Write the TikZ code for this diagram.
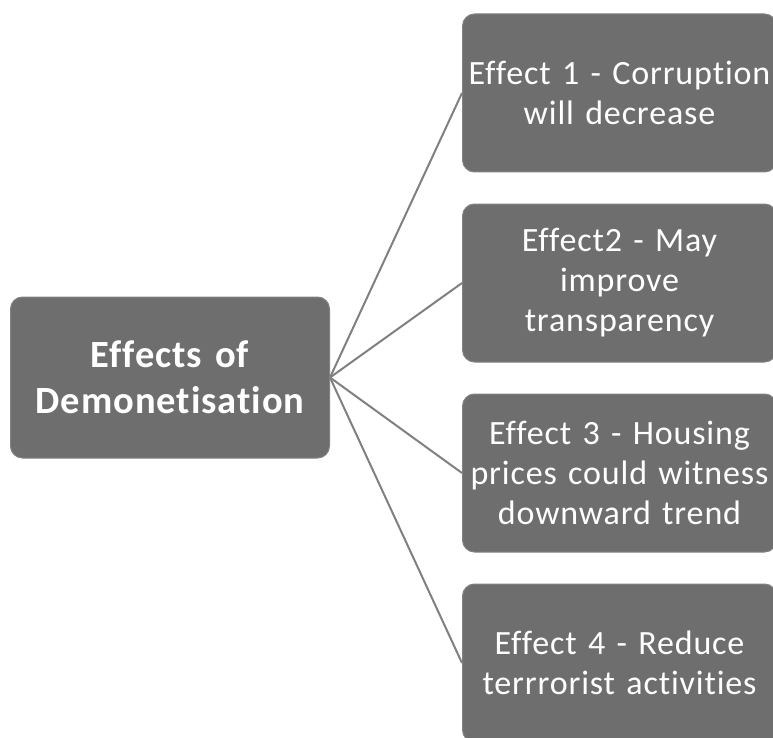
\documentclass[tikz,border=0pt]{standalone}
\usepackage{fontspec}
\setmainfont{Carlito}[Ligatures={NoCommon}, WordSpace=0.4, LetterSpace=2.5]
\definecolor{boxfill}{RGB}{110,110,110}
\definecolor{boxedge}{RGB}{130,130,130}
\definecolor{linkgray}{RGB}{128,128,128}
\begin{document}
\begin{tikzpicture}[x=1pt,y=-1pt,
  effbox/.style={draw=boxedge, line width=1pt, fill=boxfill, rounded corners=12pt,
    minimum width=314pt, minimum height=158pt, text width=314pt, align=center,
    text=white, font=\fontsize{34}{40}\selectfont, inner sep=0pt},
  mainbox/.style={draw=boxedge, line width=1pt, fill=boxfill, rounded corners=12pt,
    minimum width=319pt, minimum height=161pt, text width=310pt, align=center,
    text=white, font=\bfseries\fontsize{38.5}{46}\selectfont, inner sep=0pt},
  link/.style={draw=linkgray, line width=2pt}]
\useasboundingbox (0,0) rectangle (773,738);
\node[mainbox] (m) at (170,377.5) {Effects of\\Demonetisation};
\node[effbox, anchor=west] (e1) at (462,93) {Effect 1 - Corruption\\will decrease};
\node[effbox, anchor=west] (e2) at (462,283) {Effect2 - May\\improve\\transparency};
\node[effbox, anchor=west] (e3) at (462,473) {Effect 3 - Housing\\prices could witness\\downward trend};
\node[effbox, anchor=west] (e4) at (462,663) {Effect 4 - Reduce\\terrrorist activities};
\foreach \n in {e1,e2,e3,e4}
  \draw[link] (m.east) -- (\n.west);
\end{tikzpicture}
\end{document}
